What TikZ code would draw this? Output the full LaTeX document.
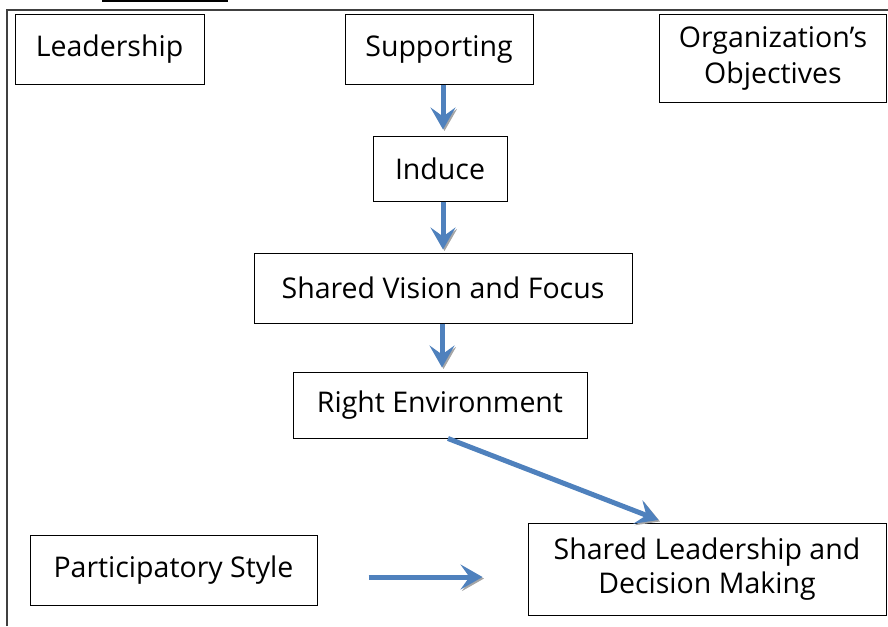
\documentclass[tikz,border=0pt]{standalone}
\usepackage{fontspec}
\setmainfont{Open Sans}
\usetikzlibrary{arrows.meta}
\definecolor{arrowblue}{RGB}{79,129,189}
\begin{document}
\begin{tikzpicture}[x=1pt,y=-1pt,
    box/.style={draw=black,line width=1pt,inner sep=0pt,align=center,
      font=\fontsize{28.5}{36}\selectfont},
    flow/.style={draw=arrowblue,line width=5pt,
      -{Stealth[length=22pt,width=25pt,inset=9pt]},
      preaction={draw=gray!70,transform canvas={xshift=1.5pt,yshift=-1.5pt}}}]
    \useasboundingbox (0,0) rectangle (888,626);
    \draw[line width=1.5pt,black!75] (7,626) -- (7,10) -- (888,10);
    \draw[line width=2pt] (102,1) -- (228,1);
    \node[box,minimum width=189pt,minimum height=69pt] (lead) at (109.5,49.5) {Leadership};
    \node[box,minimum width=188pt,minimum height=69pt] (supp) at (439,49.5) {Supporting};
    \node[box,minimum width=227pt,minimum height=87pt] (org) at (773,58.5) {Organization’s\\Objectives};
    \node[box,minimum width=134pt,minimum height=65pt] (ind) at (440,168.5) {Induce};
    \node[box,minimum width=378pt,minimum height=70pt] (svis) at (443,288) {Shared Vision and Focus};
    \node[box,minimum width=294pt,minimum height=66pt] (renv) at (440,405) {Right Environment};
    \node[box,minimum width=287pt,minimum height=70pt] (part) at (173.5,570) {Participatory Style};
    \node[box,minimum width=358pt,minimum height=92pt,font=\fontsize{28.5}{34}\selectfont] (slead) at (707,569) {Shared Leadership and\\Decision Making};
    \draw[flow,shorten >=6pt] ([xshift=4pt]supp.south) -- ([xshift=3pt]ind.north);
    \draw[flow,shorten >=3pt] ([xshift=3pt]ind.south) -- (svis.north);
    \draw[flow,shorten >=4pt] ([xshift=-1pt]svis.south) -- ([xshift=2pt]renv.north);
    \draw[flow,shorten >=7pt] ([xshift=8pt]renv.south) -- ([xshift=-42pt]slead.north);
    \draw[flow,shorten <=51pt,shorten >=45pt] ([yshift=-7pt]part.east) -- ([yshift=-8pt]slead.west);
\end{tikzpicture}
\end{document}
